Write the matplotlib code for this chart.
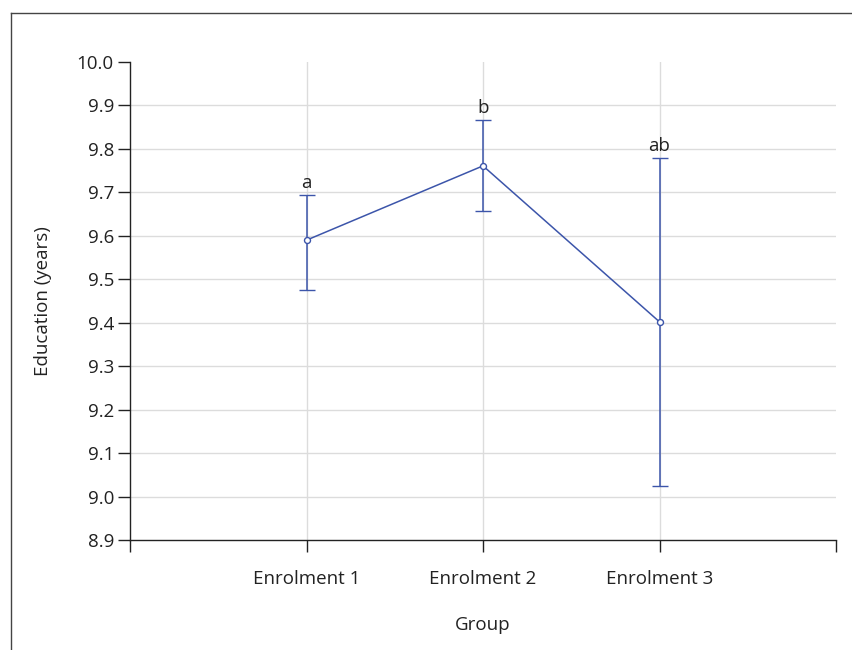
import numpy as np
import matplotlib
matplotlib.use("Agg")
import matplotlib.pyplot as plt
from matplotlib.lines import Line2D

# Values
groups = ['Enrolment 1', 'Enrolment 2', 'Enrolment 3']
means = [9.59, 9.761, 9.402]
upper = [9.694, 9.867, 9.779]
lower = [9.476, 9.657, 9.025]
letters = ['a', 'b', 'ab']
yticks = np.round(np.arange(8.9, 10.01, 0.1), 1)

BLUE = '#3c55aa'
INK = '#222222'
FS = 13.5
plt.rcParams['font.family'] = ['Open Sans', 'DejaVu Sans']

fig = plt.figure(figsize=(8.52, 6.5), dpi=100)
ax = fig.add_axes([130 / 852, 1 - 540 / 650, (836 - 130) / 852, (540 - 62) / 650])

x = np.arange(1, len(groups) + 1)
m = np.array(means)
yerr = [m - np.array(lower), np.array(upper) - m]

ax.errorbar(x, m, yerr=yerr, color=BLUE, lw=1.1, capsize=6, capthick=1.1,
            marker='o', ms=4.3, mfc='white', mec=BLUE, mew=1.0, zorder=3)

for xi, up, lab in zip(x, upper, letters):
    ax.annotate(lab, (xi, up), xytext=(0, 2), textcoords='offset points',
                ha='center', va='bottom', fontsize=FS, color=INK)

ax.set_xlim(0, 4)
ax.set_ylim(8.9, 10.0)
ax.set_xticks(np.arange(0, 5))
ax.set_xticklabels([''] + groups + [''])
ax.set_yticks(yticks)
ax.set_yticklabels([f'{t:.1f}' for t in yticks])

# grid: horizontal at every tick except the ends, vertical at categories
for t in yticks[1:-1]:
    ax.axhline(t, color='#dcdcdc', lw=1, zorder=0)
for xi in x:
    ax.axvline(xi, color='#dcdcdc', lw=1, zorder=0)

for s in ['top', 'right']:
    ax.spines[s].set_visible(False)
for s in ['left', 'bottom']:
    ax.spines[s].set_color(INK)
    ax.spines[s].set_linewidth(1.0)

ax.tick_params(axis='both', direction='out', width=1.0, length=8.6,
               color=INK, labelsize=FS, labelcolor=INK)
ax.tick_params(axis='x', pad=13)
ax.tick_params(axis='y', pad=3)

ax.set_xlabel('Group', fontsize=FS, color=INK, labelpad=20)
ax.set_ylabel('Education (years)', fontsize=FS, color=INK, labelpad=18)

# outer frame (top and left edges visible in the reference)
fig.add_artist(Line2D([11 / 852, 1], [1 - 13 / 650, 1 - 13 / 650],
                      color='#444444', lw=1.0, transform=fig.transFigure))
fig.add_artist(Line2D([11 / 852, 11 / 852], [0, 1 - 13 / 650],
                      color='#444444', lw=1.0, transform=fig.transFigure))

fig.savefig('out.png', dpi=100)
plt.close(fig)
